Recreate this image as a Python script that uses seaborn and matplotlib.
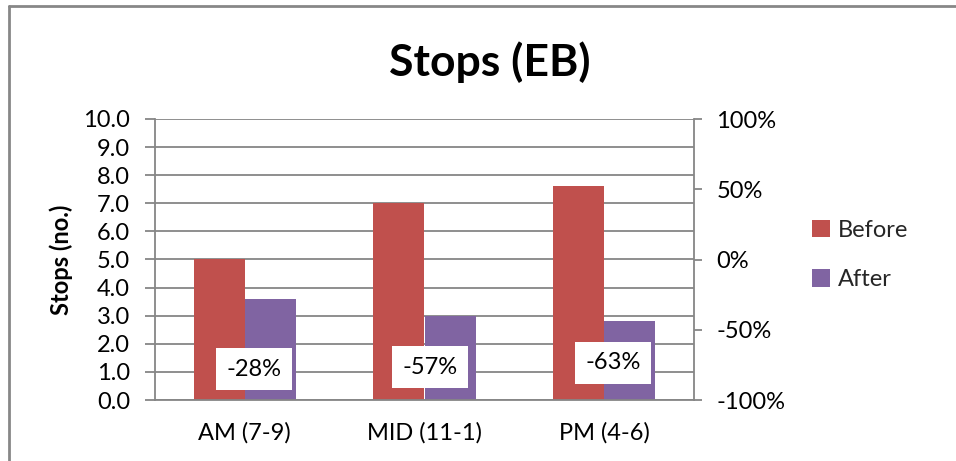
import matplotlib
matplotlib.use("Agg")
import matplotlib.pyplot as plt
import matplotlib.ticker as mticker
from matplotlib.lines import Line2D
from matplotlib.patches import Patch
import seaborn as sns
import pandas as pd

# ---- data ----
categories = ["AM (7-9)", "MID (11-1)", "PM (4-6)"]
before = [5.0, 7.0, 7.6]
after = [3.6, 3.0, 2.8]
change_labels = ["-28%", "-57%", "-63%"]
series_names = ["Before", "After"]

# ---- layout constants (not data) ----
label_y = [1.10, 1.17, 1.32]     # label box centre in left-axis units
label_dx = [0.05, 0.03, 0.05]

sns.set_theme(style="white")
plt.rcParams["font.family"] = ["Lato", "DejaVu Sans"]

FS = 17
W, H = 956, 461
fig = plt.figure(figsize=(W / 100, H / 100), dpi=100)
ax = fig.add_axes([155 / W, 1 - 400 / H, (694 - 155) / W, (400 - 119) / H])

df = pd.DataFrame({
    "cat": categories * 2,
    "val": before + after,
    "series": [series_names[0]] * 3 + [series_names[1]] * 3,
})
colors = {"Before": "#C0504D", "After": "#8064A2"}
sns.barplot(data=df, x="cat", y="val", hue="series", palette=colors,
            width=0.57, ax=ax, legend=False, saturation=1, edgecolor="none")

grid_c = "#868686"
ax.set_ylim(0, 10)
ax.set_xlim(-0.5, 2.5)
ax.set_yticks([i for i in range(11)])
ax.yaxis.set_major_formatter(mticker.FormatStrFormatter("%.1f"))
ax.grid(axis="y", color=grid_c, linewidth=1.3)
ax.set_axisbelow(True)
# x ticks at category boundaries, labels at centers
ax.set_xticks([-0.5, 0.5, 1.5, 2.5])
ax.set_xticklabels([])
ax.set_xticks([0, 1, 2], minor=True)
ax.set_xticklabels(categories, minor=True)
ax.tick_params(axis="x", which="major", length=7, width=1.3, color=grid_c, direction="out")
ax.tick_params(axis="x", which="minor", length=0, labelsize=FS, pad=16, labelcolor="black")
ax.tick_params(axis="y", length=7, width=1.3, color=grid_c, direction="out",
               labelsize=FS, labelcolor="black", pad=11, left=True)
ax.set_xlabel("")
ax.set_ylabel("Stops (no.)", fontsize=FS, fontweight="bold", labelpad=7, color="black")
for s in ["left", "bottom"]:
    ax.spines[s].set_color(grid_c)
    ax.spines[s].set_linewidth(1.3)
ax.spines["top"].set_visible(False)
ax.spines["right"].set_visible(False)

ax2 = ax.twinx()
ax2.set_ylim(-1.0, 1.0)
ax2.set_yticks([1.0, 0.5, 0.0, -0.5, -1.0])
ax2.yaxis.set_major_formatter(mticker.FuncFormatter(lambda v, p: f"{v*100:.0f}%"))
ax2.tick_params(axis="y", length=6, width=1.3, color=grid_c, direction="out",
                labelsize=FS, labelcolor="black", pad=10, right=True)
ax2.grid(False)
for s in ["left", "bottom", "top"]:
    ax2.spines[s].set_visible(False)
ax2.spines["right"].set_color(grid_c)
ax2.spines["right"].set_linewidth(1.3)

for i, lab in enumerate(change_labels):
    ax.text(i + label_dx[i], label_y[i], lab, ha="center", va="center", fontsize=FS,
            color="black", zorder=10,
            bbox=dict(boxstyle="square,pad=0.45", facecolor="white", edgecolor="none"))

fig.text(490 / W, 1 - 62 / H, "Stops (EB)", ha="center", va="center",
         fontsize=32, fontweight="bold", color="black")

handles = [Patch(facecolor=colors[n], edgecolor="none") for n in series_names]
fig.legend(handles, series_names, loc="upper left",
           bbox_to_anchor=(812 / W, 1 - 220 / H), frameon=False, fontsize=FS,
           handlelength=0.75, handleheight=0.75, handletextpad=0.35, labelspacing=1.2,
           borderaxespad=0, borderpad=0)

# outer chart border (left and top visible)
fig.add_artist(Line2D([8.5 / W, 8.5 / W], [0, 1 - 6.5 / H], transform=fig.transFigure,
                      color="#878787", linewidth=2))
fig.add_artist(Line2D([8.5 / W, 1], [1 - 6.5 / H, 1 - 6.5 / H], transform=fig.transFigure,
                      color="#878787", linewidth=2))

fig.savefig("out.png", dpi=100, facecolor="white")
